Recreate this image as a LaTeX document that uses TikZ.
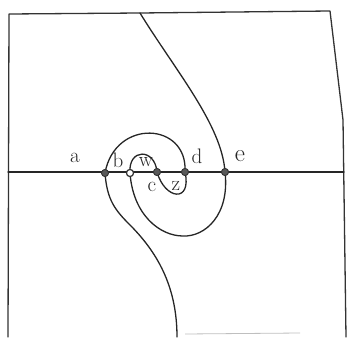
\documentclass[tikz,border=0pt]{standalone}
\usepackage{fontspec}
\begin{document}
\begin{tikzpicture}[x=1pt,y=-1pt,
  ink/.style={line width=1.3pt,draw=black!85,line cap=round,line join=round},
  frame/.style={line width=1.3pt,draw=black!80,line cap=round,line join=round},
  dot/.style={circle,fill=black!65,draw=black!80,line width=0.8pt,minimum size=7pt,inner sep=0pt},
  hollow/.style={circle,fill=white,draw=black!80,line width=1.1pt,minimum size=7pt,inner sep=0pt},
  lab/.style={font=\fontsize{21}{21}\selectfont,text=black!85,inner sep=0pt}]
\useasboundingbox (0,0) rectangle (350,337);
% frame
\coordinate (tl) at (9,14);
\coordinate (tm) at (140,13);
\coordinate (tr) at (330,11);
\coordinate (rm) at (343,120);
\coordinate (br) at (346,337);
\coordinate (bl) at (8,337);
\coordinate (hl) at (8,172);
\coordinate (hr) at (344,172);
\coordinate (bot1) at (185,334);
\coordinate (bot2) at (300,333);
\coordinate (bend) at (177,337);
\draw[frame] (bl) -- (tl) -- (tm) -- (tr) -- (rm) -- (br);
\draw[line width=0.8pt,draw=black!25] (bot1) -- (bot2);
\draw[ink] (hl) -- (hr);
% points
\node[dot] (pa) at (105,173) {};
\node[hollow] (pb) at (130,173) {};
\node[dot] (pc) at (157,172) {};
\node[dot] (pd) at (185,172) {};
\node[dot] (pe) at (225,172) {};
% the curve
\draw[ink] (tm) .. controls (175,70) and (222,125) .. (pe.center)
  .. controls (230,215) and (205,237) .. (183,236)
  .. controls (160,236) and (133,215) .. (pb.center)
  .. controls (128,148) and (155,148) .. (pc.center)
  .. controls (165,200) and (192,203) .. (pd.center)
  .. controls (188,122) and (115,118) .. (pa.center)
  .. controls (107,200) and (115,210) .. (130,225)
  .. controls (160,255) and (177,290) .. (bend);
% redraw points on top
\node[dot] at (pa) {};
\node[hollow] at (pb) {};
\node[dot] at (pc) {};
\node[dot] at (pd) {};
\node[dot] at (pe) {};
% labels
\node[lab] (la) at (75,158) {a};
\node[lab] (lb) at (118,160) {b};
\node[lab] (lw) at (146,162) {w};
\node[lab] (lc) at (152,187) {c};
\node[lab] (lz) at (176,186) {z};
\node[lab] (ld) at (197,156) {d};
\node[lab,font=\fontsize{25}{25}\selectfont] (le) at (240,156) {e};
\end{tikzpicture}
\end{document}
